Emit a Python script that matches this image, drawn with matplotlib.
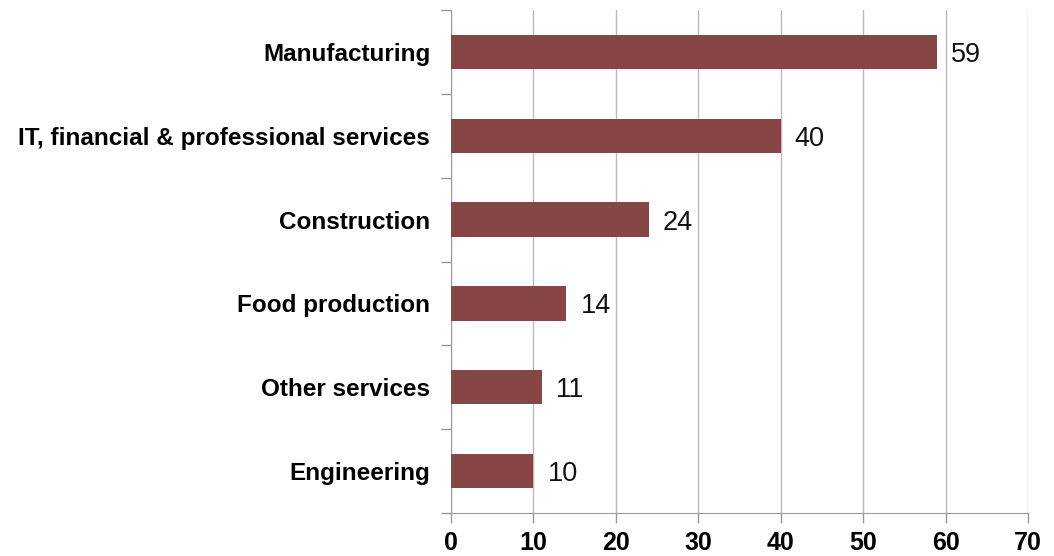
import matplotlib.pyplot as plt

# Sectors and counts, top to bottom
sectors = ['Manufacturing', 'IT, financial & professional services', 'Construction',
           'Food production', 'Other services', 'Engineering']
counts = [59, 40, 24, 14, 11, 10]
xticks = [0, 10, 20, 30, 40, 50, 60, 70]

plt.rcParams['font.family'] = ['Liberation Sans', 'DejaVu Sans']

fig = plt.figure(figsize=(10.54, 5.56), dpi=100)
ax = fig.add_axes([0.4279, 0.0773, 0.5474, 0.9047])

ypos = list(range(len(sectors)))[::-1]
ax.barh(ypos, counts, height=0.41, color='#864646', zorder=3)

for y, v in zip(ypos, counts):
    ax.text(v + 1.7, y, str(v), va='center_baseline', ha='left', fontsize=19.5, color='#111111')

ax.set_xlim(0, 70)
ax.set_ylim(-0.5, len(sectors) - 0.5)
ax.set_xticks(xticks)
ax.set_xticklabels([str(t) for t in xticks], fontsize=18, fontweight='bold')

# category labels sit between the boundary ticks
ax.set_yticks([y - 0.5 for y in range(len(sectors) + 1)])
ax.set_yticklabels([])
ax.set_yticks(ypos, minor=True)
ax.set_yticklabels(sectors, minor=True, fontsize=17.5, fontweight='bold')
ax.tick_params(axis='y', which='minor', length=0, pad=15)
ax.tick_params(axis='y', which='major', length=7, color='#999999', width=1)
ax.tick_params(axis='x', length=7, color='#999999', width=1, pad=6)

ax.grid(axis='x', color='#bbbbbb', linewidth=1, zorder=0)
for s in ['top', 'right']:
    ax.spines[s].set_visible(False)
for s in ['left', 'bottom']:
    ax.spines[s].set_color('#999999')

fig.savefig('out.png', dpi=100)
